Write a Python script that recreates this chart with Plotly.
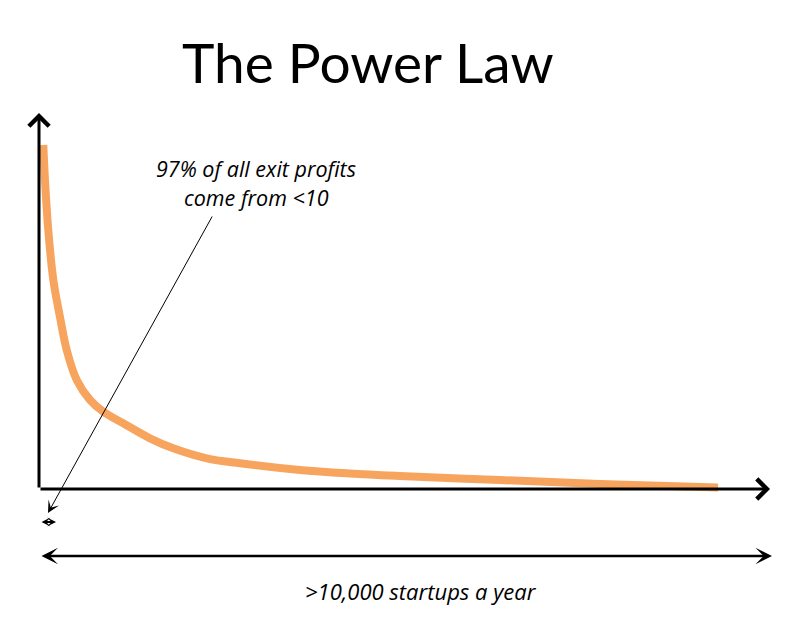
import plotly.graph_objects as go

# Data (arbitrary units: rank of startup vs share of exit profit)
rank = [0.59, 0.82, 1.27, 1.96, 2.87, 3.79, 5.16, 6.98, 8.80, 11.53, 15.18, 18.37,
        22.94, 27.50, 35.70, 42.54, 49.38, 63.06, 76.74, 92.89]
profit = [91.49, 82.18, 68.88, 55.59, 45.74, 36.97, 28.99, 23.67, 20.56, 17.47, 13.48, 10.82,
          8.16, 6.84, 5.05, 4.12, 3.46, 2.39, 1.33, 0.40]

title_text = "The Power Law"
note_line1 = "97% of all exit profits"
note_line2 = "come from <10"
bottom_text = ">10,000 startups a year"

ORANGE = "#F7A55E"
TITLE_FONT = "Lato"
TEXT_FONT = "Open Sans"

fig = go.Figure()
fig.add_trace(go.Scatter(
    x=rank, y=profit, mode="lines",
    line=dict(color=ORANGE, width=8, shape="spline", smoothing=1.0),
    hoverinfo="skip", showlegend=False,
))


def arrow(x, y, ax, ay, **kw):
    d = dict(x=x, y=y, ax=ax, ay=ay, xref="x", yref="y", axref="x", ayref="y",
             showarrow=True, arrowcolor="black", text="", standoff=0)
    d.update(kw)
    return d


ann = [
    # axes with open chevron heads
    arrow(0, 100, 0, 0, arrowhead=4, arrowsize=1.3, arrowwidth=3),
    arrow(100, 0, 0, 0, arrowhead=4, arrowsize=1.3, arrowwidth=3),
    # pointer from note to small range
    arrow(1.23, -6.38, 23.8, 72.87, arrowhead=3, arrowsize=2, arrowwidth=1),
    # small double arrow
    arrow(2.33, -8.78, 0.137, -8.78, arrowhead=3, arrowside="end+start", arrowsize=0.75,
          arrowwidth=2, startstandoff=0, startarrowhead=3, startarrowsize=0.75),
    # big double arrow
    arrow(100.27, -17.82, 0.137, -17.82, arrowhead=3, arrowside="end+start", arrowsize=1.1,
          arrowwidth=2.5, startstandoff=0, startarrowhead=3, startarrowsize=1.1),
    dict(x=45.0, y=113.56, xref="x", yref="y", text=title_text, showarrow=False,
         font=dict(family=TITLE_FONT, size=55, color="black"), xanchor="center", yanchor="middle"),
    dict(x=29.69, y=85.3, xref="x", yref="y", text=note_line1, showarrow=False,
         font=dict(family=TEXT_FONT, size=21.5, color="black", style="italic"),
         xanchor="center", yanchor="middle"),
    dict(x=29.69, y=77.6, xref="x", yref="y", text=note_line2, showarrow=False,
         font=dict(family=TEXT_FONT, size=21.5, color="black", style="italic"),
         xanchor="center", yanchor="middle"),
    dict(x=52.19, y=-27.0, xref="x", yref="y", text=bottom_text, showarrow=False,
         font=dict(family=TEXT_FONT, size=22, color="black", style="italic"),
         xanchor="center", yanchor="middle"),
]

fig.update_layout(
    width=800, height=620,
    margin=dict(l=0, r=0, t=0, b=0, pad=0, autoexpand=False),
    paper_bgcolor="white", plot_bgcolor="white",
    xaxis=dict(range=[-39 / 7.31, 761 / 7.31], visible=False, fixedrange=True),
    yaxis=dict(range=[-131 / 3.76, 489 / 3.76], visible=False, fixedrange=True),
    annotations=ann,
    showlegend=False,
)

fig.write_html("out.html", config={"displayModeBar": False},
               post_script="document.body.style.margin='0';document.body.style.overflow='hidden';")
